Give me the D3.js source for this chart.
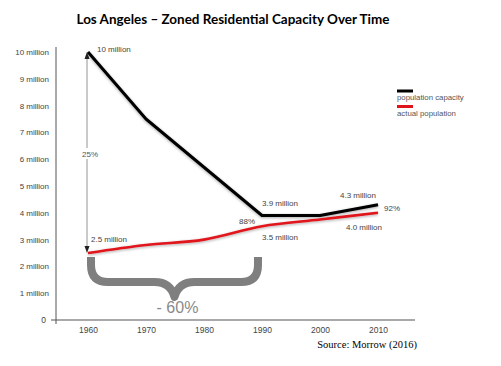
<!DOCTYPE html>
<html><head><meta charset="utf-8">
<script src="https://cdn.jsdelivr.net/npm/d3@7"></script>
<style>
html,body{margin:0;padding:0;background:#fff;}
svg{display:block;}
</style></head>
<body>
<script>
const years = [1960, 1970, 1980, 1990, 2000, 2010];
const capacity = [10.0, 7.5, 5.7, 3.9, 3.9, 4.3];
const population = [2.5, 2.8, 3.0, 3.5, 3.75, 4.0];
const yTicks = [0,1,2,3,4,5,6,7,8,9,10];
const yTickLabels = ["0","1 million","2 million","3 million","4 million","5 million","6 million","7 million","8 million","9 million","10 million"];
const seriesNames = ["population capacity", "actual population"];
const seriesColors = ["#000000", "#e0141b"];
const title = "Los Angeles \u2013 Zoned Residential Capacity Over Time";
const source = "Source: Morrow (2016)";

const W = 501, H = 366;
const svg = d3.select("body").append("svg").attr("width", W).attr("height", H);
const defs = svg.append("defs");
const f = defs.append("filter").attr("id","sh").attr("x","-20%").attr("y","-20%").attr("width","140%").attr("height","140%");
f.append("feGaussianBlur").attr("in","SourceAlpha").attr("stdDeviation",1.8).attr("result","b");
f.append("feOffset").attr("in","b").attr("dx",0).attr("dy",1).attr("result","o");
f.append("feComponentTransfer").attr("in","o").attr("result","t").append("feFuncA").attr("type","linear").attr("slope",0.35);
const fm = f.append("feMerge"); fm.append("feMergeNode").attr("in","t"); fm.append("feMergeNode").attr("in","SourceGraphic");

const x = d3.scaleLinear().domain([1960, 2010]).range([88, 378]);
const y = d3.scaleLinear().domain([0, 10]).range([320, 52]);
const sans = "'Liberation Sans', Arial, sans-serif";

// title
svg.append("text").attr("x", 233).attr("y", 24).attr("text-anchor","middle")
  .attr("font-family","Lato, 'Open Sans', sans-serif").attr("font-weight","bold").attr("font-size",13)
  .attr("textLength",313).attr("lengthAdjust","spacingAndGlyphs")
  .attr("fill","#000").text(title);

// y axis
const ya = svg.append("g").attr("transform","translate(56,0)")
  .call(d3.axisLeft(y).tickValues(yTicks).tickSize(0).tickPadding(7).tickFormat((d,i)=>yTickLabels[i]));
ya.select(".domain").remove();
ya.selectAll("text").attr("font-family",sans).attr("font-size",8).attr("fill","#444");
ya.selectAll(".tick").filter(d=>d===0).select("text").attr("font-size",8.5).attr("dx",-3);
svg.append("line").attr("x1",56).attr("x2",56).attr("y1",47).attr("y2",324).attr("stroke","#555").attr("stroke-width",1);

// x axis
const xa = svg.append("g").attr("transform","translate(0,320)")
  .call(d3.axisBottom(x).tickValues(years).tickSize(0).tickPadding(7).tickFormat(d3.format("d")));
xa.select(".domain").remove();
xa.selectAll("text").attr("font-family",sans).attr("font-size",8.5).attr("fill","#444");
svg.append("line").attr("x1",51).attr("x2",415).attr("y1",320).attr("y2",320).attr("stroke","#555").attr("stroke-width",1.2);

// arrow
const ax = x(1960) - 1;
svg.append("line").attr("x1",ax).attr("x2",ax).attr("y1",y(10)+5).attr("y2",y(2.5)-6).attr("stroke","#888").attr("stroke-width",0.9);
svg.append("path").attr("d",`M${ax-2.5},${y(10)+7}L${ax},${y(10)}L${ax+2.5},${y(10)+7}Z`).attr("fill","#222");
svg.append("path").attr("d",`M${ax-2.5},${y(2.5)-7}L${ax},${y(2.5)}L${ax+2.5},${y(2.5)-7}Z`).attr("fill","#222");
svg.append("rect").attr("x",80).attr("y",148).attr("width",18).attr("height",11).attr("fill","#fff");
svg.append("text").attr("x",82).attr("y",157).attr("font-family",sans).attr("font-size",8).attr("fill","#555").text("25%");

// brace
const bx0 = x(1960) + 3, bx1 = x(1990) - 4, bm = (bx0 + bx1) / 2, bt = 257, bh = 282, tip = 297;
svg.append("path").attr("d",
  `M${bx0},${bt}L${bx0},${bt+8}Q${bx0},${bh} ${bx0+17},${bh}L${bm-20},${bh}Q${bm-4},${bh} ${bm},${tip}` +
  `Q${bm+4},${bh} ${bm+20},${bh}L${bx1-17},${bh}Q${bx1},${bh} ${bx1},${bt+8}L${bx1},${bt}`)
  .attr("fill","none").attr("stroke","#7f7f7f").attr("stroke-width",8).attr("stroke-linejoin","round");
svg.append("text").attr("x",bm+3).attr("y",313).attr("text-anchor","middle")
  .attr("font-family",sans).attr("font-size",16).attr("fill","#8a8a8a").text("- 60%");

// lines
const line = d3.line().x((d,i)=>x(years[i])).y(d=>y(d));
svg.append("path").datum(capacity).attr("d",line).attr("fill","none").attr("stroke",seriesColors[0])
  .attr("stroke-width",3).attr("stroke-linejoin","round").attr("filter","url(#sh)");
svg.append("path").datum(population).attr("d",d3.line().curve(d3.curveMonotoneX).x((d,i)=>x(years[i])).y(d=>y(d)))
  .attr("fill","none").attr("stroke",seriesColors[1]).attr("stroke-width",2.6).attr("filter","url(#sh)");

// data labels
const lab = (tx,ty,t,anchor)=>svg.append("text").attr("x",tx).attr("y",ty).attr("text-anchor",anchor||"start")
  .attr("font-family",sans).attr("font-size",8).attr("fill","#444").text(t);
lab(x(1960)+9, y(capacity[0])+0, "10 million");
lab(x(1960)+3, y(population[0])-11, "2.5 million");
lab(x(1990), y(capacity[3])-9, "3.9 million");
lab(x(1990), y(population[3])+14, "3.5 million");
lab(x(2010)-2, y(capacity[5])-7, "4.3 million", "end");
lab(x(2010)+4, y(population[5])+17, "4.0 million", "end");
lab(x(2010)+6, y(capacity[5])+6, "92%");
lab(x(1990)-7, y(population[3])-2, "88%", "end");

// legend
const lg = svg.append("g");
seriesNames.forEach((n,i)=>{
  lg.append("rect").attr("x",397).attr("y",89.5+i*15.5).attr("width",16).attr("height",3).attr("fill",seriesColors[i]);
  lg.append("text").attr("x",397).attr("y",100+i*16).attr("font-family",sans).attr("font-size",7.8).attr("fill","#555").text(n);
});

// source
svg.append("text").attr("x",417).attr("y",348).attr("text-anchor","end")
  .attr("font-family","'Liberation Serif', 'Times New Roman', serif").attr("font-size",10.5).attr("fill","#000").text(source);
</script>
</body></html>
